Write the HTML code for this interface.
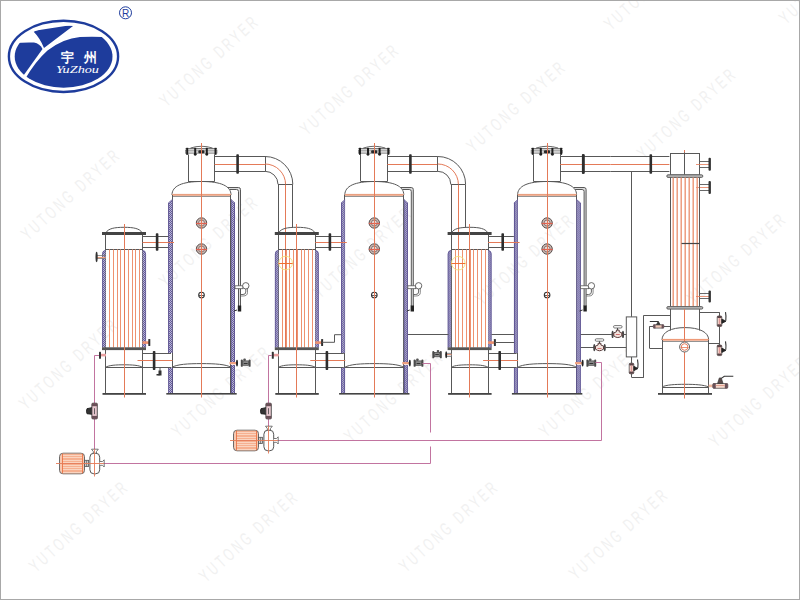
<!DOCTYPE html><html><head><meta charset="utf-8"><style>html,body{margin:0;padding:0;background:#fff}svg{display:block}</style></head><body><svg width="800" height="600" viewBox="0 0 800 600">
<defs><pattern id="ins" width="2" height="2" patternUnits="userSpaceOnUse">
<rect width="2" height="2" fill="#b8b3d6"/><rect width="1" height="1" fill="#645c98"/><rect x="1" y="1" width="1" height="1" fill="#645c98"/></pattern></defs>
<rect width="800" height="600" fill="#fff"/>
<text transform="translate(166.5,107.5) rotate(-42) scale(0.62,1)" font-family="Liberation Sans, sans-serif" font-size="18" fill="#f1f1f1" textLength="200" lengthAdjust="spacing">YUTONG DRYER</text>
<text transform="translate(307,136) rotate(-42) scale(0.62,1)" font-family="Liberation Sans, sans-serif" font-size="18" fill="#f1f1f1" textLength="200" lengthAdjust="spacing">YUTONG DRYER</text>
<text transform="translate(473.5,153) rotate(-42) scale(0.62,1)" font-family="Liberation Sans, sans-serif" font-size="18" fill="#f1f1f1" textLength="200" lengthAdjust="spacing">YUTONG DRYER</text>
<text transform="translate(644,160) rotate(-42) scale(0.62,1)" font-family="Liberation Sans, sans-serif" font-size="18" fill="#f1f1f1" textLength="200" lengthAdjust="spacing">YUTONG DRYER</text>
<text transform="translate(28,241) rotate(-42) scale(0.62,1)" font-family="Liberation Sans, sans-serif" font-size="18" fill="#f1f1f1" textLength="200" lengthAdjust="spacing">YUTONG DRYER</text>
<text transform="translate(166,288) rotate(-42) scale(0.62,1)" font-family="Liberation Sans, sans-serif" font-size="18" fill="#f1f1f1" textLength="200" lengthAdjust="spacing">YUTONG DRYER</text>
<text transform="translate(320,299) rotate(-42) scale(0.62,1)" font-family="Liberation Sans, sans-serif" font-size="18" fill="#f1f1f1" textLength="200" lengthAdjust="spacing">YUTONG DRYER</text>
<text transform="translate(482,306) rotate(-42) scale(0.62,1)" font-family="Liberation Sans, sans-serif" font-size="18" fill="#f1f1f1" textLength="200" lengthAdjust="spacing">YUTONG DRYER</text>
<text transform="translate(694,305) rotate(-42) scale(0.62,1)" font-family="Liberation Sans, sans-serif" font-size="18" fill="#f1f1f1" textLength="200" lengthAdjust="spacing">YUTONG DRYER</text>
<text transform="translate(26,410.5) rotate(-42) scale(0.62,1)" font-family="Liberation Sans, sans-serif" font-size="18" fill="#f1f1f1" textLength="200" lengthAdjust="spacing">YUTONG DRYER</text>
<text transform="translate(178.5,438) rotate(-42) scale(0.62,1)" font-family="Liberation Sans, sans-serif" font-size="18" fill="#f1f1f1" textLength="200" lengthAdjust="spacing">YUTONG DRYER</text>
<text transform="translate(351,443) rotate(-42) scale(0.62,1)" font-family="Liberation Sans, sans-serif" font-size="18" fill="#f1f1f1" textLength="200" lengthAdjust="spacing">YUTONG DRYER</text>
<text transform="translate(546,438) rotate(-42) scale(0.62,1)" font-family="Liberation Sans, sans-serif" font-size="18" fill="#f1f1f1" textLength="200" lengthAdjust="spacing">YUTONG DRYER</text>
<text transform="translate(716,448) rotate(-42) scale(0.62,1)" font-family="Liberation Sans, sans-serif" font-size="18" fill="#f1f1f1" textLength="200" lengthAdjust="spacing">YUTONG DRYER</text>
<text transform="translate(36,573) rotate(-42) scale(0.62,1)" font-family="Liberation Sans, sans-serif" font-size="18" fill="#f1f1f1" textLength="200" lengthAdjust="spacing">YUTONG DRYER</text>
<text transform="translate(206,583) rotate(-42) scale(0.62,1)" font-family="Liberation Sans, sans-serif" font-size="18" fill="#f1f1f1" textLength="200" lengthAdjust="spacing">YUTONG DRYER</text>
<text transform="translate(406,573) rotate(-42) scale(0.62,1)" font-family="Liberation Sans, sans-serif" font-size="18" fill="#f1f1f1" textLength="200" lengthAdjust="spacing">YUTONG DRYER</text>
<text transform="translate(576,580.5) rotate(-42) scale(0.62,1)" font-family="Liberation Sans, sans-serif" font-size="18" fill="#f1f1f1" textLength="200" lengthAdjust="spacing">YUTONG DRYER</text>
<text transform="translate(611,31) rotate(-42) scale(0.62,1)" font-family="Liberation Sans, sans-serif" font-size="18" fill="#f1f1f1" textLength="200" lengthAdjust="spacing">YUTONG DRYER</text>
<text transform="translate(786,25) rotate(-42) scale(0.62,1)" font-family="Liberation Sans, sans-serif" font-size="18" fill="#f1f1f1" textLength="200" lengthAdjust="spacing">YUTONG DRYER</text>
<g transform="translate(0.0,0)">
<path d="M190.5,148 Q201.5,144.5 212.5,148" stroke="#585858" stroke-width="0.9" fill="none"/>
<line x1="185.5" y1="148.5" x2="217" y2="148.5" stroke="#555" stroke-width="0.8"/>
<rect x="185.5" y="150" width="31.5" height="3.2" fill="#cfcfcf" stroke="#666" stroke-width="0.6"/>
<rect x="186.2" y="147.8" width="2" height="7" fill="#1e1e1e"/>
<rect x="194.2" y="147.8" width="2" height="7" fill="#1e1e1e"/>
<rect x="205.8" y="147.8" width="2" height="7" fill="#1e1e1e"/>
<rect x="214.5" y="147.8" width="2" height="7" fill="#1e1e1e"/>
<circle cx="195.2" cy="154.3" r="1.2" stroke="#1e1e1e" stroke-width="0.4" fill="#1e1e1e"/>
<circle cx="206.8" cy="154.3" r="1.2" stroke="#1e1e1e" stroke-width="0.4" fill="#1e1e1e"/>
<rect x="198.3" y="150.3" width="6.2" height="3" fill="#2a2a2a" rx="1.2"/>
<line x1="188.5" y1="154.5" x2="188.5" y2="181.5" stroke="#585858" stroke-width="1"/>
<line x1="214.5" y1="154.5" x2="214.5" y2="181.5" stroke="#585858" stroke-width="1"/>
<line x1="188" y1="181.5" x2="214.6" y2="181.5" stroke="#585858" stroke-width="1"/>
<path d="M172,195 C172,186 182,181.5 201.5,181.5 C221,181.5 231,186 231,195" stroke="#585858" stroke-width="1" fill="none"/>
<rect x="172" y="193.9" width="59" height="1.9" fill="#e9a080"/>
<line x1="172" y1="196.5" x2="231" y2="196.5" stroke="#777" stroke-width="0.8"/>
<line x1="172.5" y1="195" x2="172.5" y2="393" stroke="#585858" stroke-width="1"/>
<line x1="230.5" y1="195" x2="230.5" y2="393" stroke="#585858" stroke-width="1"/>
<path d="M168.3,203.0 L172.3,199.5 L172.3,353.0 L168.3,353.0 Z" stroke="none" stroke-width="0" fill="url(#ins)"/>
<line x1="168.5" y1="203.0" x2="168.5" y2="353.0" stroke="#554a8c" stroke-width="0.8"/>
<path d="M168.3,203.0 L172.3,199.5" stroke="#554a8c" stroke-width="0.7" fill="none"/>
<line x1="172.5" y1="199.5" x2="172.5" y2="353.0" stroke="#6a6098" stroke-width="0.6"/>
<rect x="168.3" y="367.5" width="4" height="25.5" fill="url(#ins)"/>
<line x1="168.5" y1="367.5" x2="168.5" y2="393.0" stroke="#554a8c" stroke-width="0.7"/>
<line x1="172.5" y1="367.5" x2="172.5" y2="393.0" stroke="#554a8c" stroke-width="0.7"/>
<path d="M231,199.5 L235,203.0 L235,362.0 L231,362.0 Z" stroke="none" stroke-width="0" fill="url(#ins)"/>
<line x1="234.5" y1="203.0" x2="234.5" y2="362.0" stroke="#554a8c" stroke-width="0.8"/>
<path d="M231,199.5 L235,203.0" stroke="#554a8c" stroke-width="0.7" fill="none"/>
<line x1="231.5" y1="199.5" x2="231.5" y2="362.0" stroke="#6a6098" stroke-width="0.6"/>
<rect x="231" y="365" width="4" height="28" fill="url(#ins)"/>
<line x1="231.5" y1="365" x2="231.5" y2="393" stroke="#554a8c" stroke-width="0.7"/>
<line x1="234.5" y1="365" x2="234.5" y2="393" stroke="#554a8c" stroke-width="0.7"/>
<rect x="229.5" y="362" width="7" height="2.3" fill="#f0a080"/>
<ellipse cx="237" cy="363.1" rx="1" ry="3.4" fill="#222"/>
<g>
<rect x="240.8" y="359.5" width="2" height="7.3" fill="#4a4a4a" rx="0.9"/>
<rect x="248.6" y="359.5" width="2" height="7.3" fill="#4a4a4a" rx="0.9"/>
<rect x="242.8" y="360.90000000000003" width="5.799999999999983" height="4.4" fill="#8a8a8a" stroke="#444" stroke-width="0.7"/>
<rect x="243.4" y="358.5" width="2.4" height="2.6" fill="#555" rx="0.8"/>
<line x1="243.8" y1="363.5" x2="247.6" y2="363.5" stroke="#333" stroke-width="1"/>
</g>
<rect x="166.3" y="393" width="70.4" height="1.6" fill="#444"/>
<path d="M172,367.3 C177,364.3 188,363.6 201.5,363.6 C215,363.6 226,364.3 231,367.3" stroke="#585858" stroke-width="1" fill="none"/>
<line x1="172" y1="367.5" x2="231" y2="367.5" stroke="#585858" stroke-width="1"/>
<circle cx="201.5" cy="223" r="5.2" stroke="#5a5050" stroke-width="1" fill="#c8b8b0"/>
<circle cx="201.5" cy="223" r="3" stroke="#7a6060" stroke-width="0.8" fill="#e8dcd8"/>
<line x1="196.0" y1="223.5" x2="207.0" y2="223.5" stroke="#e06050" stroke-width="1.2"/>
<circle cx="201.5" cy="249" r="5.2" stroke="#5a5050" stroke-width="1" fill="#c8b8b0"/>
<circle cx="201.5" cy="249" r="3" stroke="#7a6060" stroke-width="0.8" fill="#e8dcd8"/>
<line x1="196.0" y1="249.5" x2="207.0" y2="249.5" stroke="#e06050" stroke-width="1.2"/>
<circle cx="201.5" cy="295" r="2.8" stroke="#333" stroke-width="1.1" fill="none"/>
<line x1="199.0" y1="295.5" x2="204.0" y2="295.5" stroke="#333" stroke-width="0.8"/>
<line x1="201.5" y1="143" x2="201.5" y2="397.5" stroke="#e47a58" stroke-width="1"/>
<path d="M228.5,187.5 L238.5,187.5 Q240.5,187.5 240.5,189.5 L240.5,306 L238.5,306 L238.5,191.5 Q238.5,189.5 236.5,189.5 L229.5,189.5 Z" stroke="none" stroke-width="0" fill="#dcdcdc"/>
<path d="M228,187.5 L238.5,187.5 Q240.5,187.5 240.5,189.5 L240.5,306" stroke="#585858" stroke-width="1" fill="none"/>
<path d="M229.5,189.5 L236.5,189.5 Q238.5,189.5 238.5,191.5 L238.5,306" stroke="#585858" stroke-width="1" fill="none"/>
<rect x="237.8" y="305.5" width="3.4" height="6" fill="#222"/>
<path d="M237,310 L234,311" stroke="#333" stroke-width="1" fill="none"/>
<rect x="235" y="285.8" width="8" height="2.9" fill="#fff" stroke="#585858" stroke-width="0.8"/>
<circle cx="245.8" cy="285.8" r="3.2" stroke="#585858" stroke-width="0.9" fill="#fff"/>
<path d="M245.8,289 L245.8,292 Q245.8,294.5 243,294.5 L240.6,294.5" stroke="#585858" stroke-width="0.9" fill="none"/>
<path d="M247.5,288.5 L247.5,292.5 Q247.5,296 243,296 L240.6,296" stroke="#585858" stroke-width="0.7" fill="none"/>
<line x1="214.6" y1="156.5" x2="265" y2="156.5" stroke="#585858" stroke-width="1"/>
<line x1="214.6" y1="171.5" x2="265" y2="171.5" stroke="#585858" stroke-width="1"/>
<line x1="214.6" y1="164.5" x2="265" y2="164.5" stroke="#e47a58" stroke-width="1"/>
<rect x="236.3" y="154.3" width="2.6" height="19.5" fill="#2e2e2e" rx="0.8"/>
<line x1="265.5" y1="156.5" x2="265.5" y2="171.3" stroke="#585858" stroke-width="1"/>
<path d="M265,156.5 A27.8,27.8 0 0 1 292.8,184.3" stroke="#585858" stroke-width="1" fill="none"/>
<path d="M265,171.3 A13,13 0 0 1 278,184.3" stroke="#585858" stroke-width="1" fill="none"/>
<path d="M265,164 A20.6,20.6 0 0 1 285.6,184.6" stroke="#e47a58" stroke-width="1" fill="none"/>
<line x1="278" y1="184.5" x2="292.8" y2="184.5" stroke="#585858" stroke-width="1"/>
<line x1="278.5" y1="184.6" x2="278.5" y2="249.4" stroke="#585858" stroke-width="1"/>
<line x1="292.5" y1="184.6" x2="292.5" y2="227.5" stroke="#585858" stroke-width="1"/>
<line x1="285.5" y1="184.6" x2="285.5" y2="348" stroke="#e47a58" stroke-width="1"/>
<path d="M106,232.5 C108.5,228.6 114,227.3 124,227.3 C134,227.3 139.5,228.6 142,232.5" stroke="#585858" stroke-width="1" fill="none"/>
<rect x="102" y="232" width="44" height="3" fill="#444"/>
<line x1="105.5" y1="235" x2="105.5" y2="393.5" stroke="#585858" stroke-width="1"/>
<line x1="142.5" y1="235" x2="142.5" y2="393.5" stroke="#585858" stroke-width="1"/>
<line x1="105.6" y1="249.5" x2="142.5" y2="249.5" stroke="#585858" stroke-width="1"/>
<line x1="109.5" y1="249.4" x2="109.5" y2="347.5" stroke="#ee9270" stroke-width="1"/>
<line x1="113.5" y1="249.4" x2="113.5" y2="347.5" stroke="#ee9270" stroke-width="1"/>
<line x1="117.5" y1="249.4" x2="117.5" y2="347.5" stroke="#ee9270" stroke-width="1"/>
<line x1="120.5" y1="249.4" x2="120.5" y2="347.5" stroke="#ee9270" stroke-width="1"/>
<line x1="124.5" y1="249.4" x2="124.5" y2="347.5" stroke="#ee9270" stroke-width="1"/>
<line x1="128.5" y1="249.4" x2="128.5" y2="347.5" stroke="#ee9270" stroke-width="1"/>
<line x1="132.5" y1="249.4" x2="132.5" y2="347.5" stroke="#ee9270" stroke-width="1"/>
<line x1="135.5" y1="249.4" x2="135.5" y2="347.5" stroke="#ee9270" stroke-width="1"/>
<line x1="139.5" y1="249.4" x2="139.5" y2="347.5" stroke="#ee9270" stroke-width="1"/>
<path d="M102.2,347.5 L102.2,254 Q102.2,250.5 105.6,250.2 L105.6,347.5 Z" stroke="none" stroke-width="0" fill="url(#ins)"/>
<path d="M102.5,347.5 L102.5,254 Q102.5,250.8 105.6,250.4" stroke="#554a8c" stroke-width="0.7" fill="none"/>
<path d="M145.9,347.5 L145.9,254 Q145.9,250.5 142.5,250.2 L142.5,347.5 Z" stroke="none" stroke-width="0" fill="url(#ins)"/>
<path d="M145.6,347.5 L145.6,254 Q145.6,250.8 142.5,250.4" stroke="#554a8c" stroke-width="0.7" fill="none"/>
<rect x="102" y="347.3" width="44" height="2.8" fill="#555"/>
<rect x="142.5" y="341.3" width="6.5" height="2.6" fill="#ee9270"/>
<rect x="148.3" y="339" width="2" height="7" fill="#333" rx="0.6"/>
<path d="M105.6,367.3 C109,365.2 116,364.8 124,364.8 C132,364.8 139,365.2 142.5,367.3" stroke="#585858" stroke-width="1" fill="none"/>
<line x1="105.6" y1="367.5" x2="142.5" y2="367.5" stroke="#585858" stroke-width="1"/>
<rect x="102.5" y="393" width="43.5" height="1.8" fill="#444"/>
<rect x="100" y="353.8" width="6" height="2.6" fill="#e9a0a0"/>
<rect x="99" y="351.8" width="2" height="7" fill="#333" rx="0.6"/>
<line x1="124.5" y1="224" x2="124.5" y2="397.5" stroke="#e47a58" stroke-width="1"/>
<line x1="142.5" y1="236.5" x2="168.3" y2="236.5" stroke="#585858" stroke-width="1"/>
<line x1="142.5" y1="247.5" x2="168.3" y2="247.5" stroke="#585858" stroke-width="1"/>
<line x1="142.5" y1="242.5" x2="174" y2="242.5" stroke="#e47a58" stroke-width="1"/>
<rect x="155.8" y="233.2" width="2.6" height="17.5" fill="#2e2e2e" rx="0.8"/>
<line x1="142.5" y1="353.5" x2="171" y2="353.5" stroke="#585858" stroke-width="1"/>
<line x1="142.5" y1="367.5" x2="171" y2="367.5" stroke="#585858" stroke-width="1"/>
<line x1="137.5" y1="360.5" x2="172.5" y2="360.5" stroke="#e47a58" stroke-width="1"/>
<rect x="152.8" y="351" width="2.6" height="19" fill="#2e2e2e" rx="0.8"/>
</g>
<g transform="translate(172.8,0)">
<path d="M190.5,148 Q201.5,144.5 212.5,148" stroke="#585858" stroke-width="0.9" fill="none"/>
<line x1="185.5" y1="148.5" x2="217" y2="148.5" stroke="#555" stroke-width="0.8"/>
<rect x="185.5" y="150" width="31.5" height="3.2" fill="#cfcfcf" stroke="#666" stroke-width="0.6"/>
<rect x="186.2" y="147.8" width="2" height="7" fill="#1e1e1e"/>
<rect x="194.2" y="147.8" width="2" height="7" fill="#1e1e1e"/>
<rect x="205.8" y="147.8" width="2" height="7" fill="#1e1e1e"/>
<rect x="214.5" y="147.8" width="2" height="7" fill="#1e1e1e"/>
<circle cx="195.2" cy="154.3" r="1.2" stroke="#1e1e1e" stroke-width="0.4" fill="#1e1e1e"/>
<circle cx="206.8" cy="154.3" r="1.2" stroke="#1e1e1e" stroke-width="0.4" fill="#1e1e1e"/>
<rect x="198.3" y="150.3" width="6.2" height="3" fill="#2a2a2a" rx="1.2"/>
<line x1="187.7" y1="154.5" x2="187.7" y2="181.5" stroke="#585858" stroke-width="1"/>
<line x1="214.7" y1="154.5" x2="214.7" y2="181.5" stroke="#585858" stroke-width="1"/>
<line x1="188" y1="181.5" x2="214.6" y2="181.5" stroke="#585858" stroke-width="1"/>
<path d="M172,195 C172,186 182,181.5 201.5,181.5 C221,181.5 231,186 231,195" stroke="#585858" stroke-width="1" fill="none"/>
<rect x="172" y="193.9" width="59" height="1.9" fill="#e9a080"/>
<line x1="172" y1="196.5" x2="231" y2="196.5" stroke="#777" stroke-width="0.8"/>
<line x1="171.7" y1="195" x2="171.7" y2="393" stroke="#585858" stroke-width="1"/>
<line x1="230.7" y1="195" x2="230.7" y2="393" stroke="#585858" stroke-width="1"/>
<path d="M168.3,203.0 L172.3,199.5 L172.3,353.0 L168.3,353.0 Z" stroke="none" stroke-width="0" fill="url(#ins)"/>
<line x1="168.7" y1="203.0" x2="168.7" y2="353.0" stroke="#554a8c" stroke-width="0.8"/>
<path d="M168.3,203.0 L172.3,199.5" stroke="#554a8c" stroke-width="0.7" fill="none"/>
<line x1="171.7" y1="199.5" x2="171.7" y2="353.0" stroke="#6a6098" stroke-width="0.6"/>
<rect x="168.3" y="367.5" width="4" height="25.5" fill="url(#ins)"/>
<line x1="168.7" y1="367.5" x2="168.7" y2="393.0" stroke="#554a8c" stroke-width="0.7"/>
<line x1="171.7" y1="367.5" x2="171.7" y2="393.0" stroke="#554a8c" stroke-width="0.7"/>
<path d="M231,199.5 L235,203.0 L235,362.0 L231,362.0 Z" stroke="none" stroke-width="0" fill="url(#ins)"/>
<line x1="234.7" y1="203.0" x2="234.7" y2="362.0" stroke="#554a8c" stroke-width="0.8"/>
<path d="M231,199.5 L235,203.0" stroke="#554a8c" stroke-width="0.7" fill="none"/>
<line x1="231.7" y1="199.5" x2="231.7" y2="362.0" stroke="#6a6098" stroke-width="0.6"/>
<rect x="231" y="365" width="4" height="28" fill="url(#ins)"/>
<line x1="231.7" y1="365" x2="231.7" y2="393" stroke="#554a8c" stroke-width="0.7"/>
<line x1="234.7" y1="365" x2="234.7" y2="393" stroke="#554a8c" stroke-width="0.7"/>
<rect x="229.5" y="362" width="7" height="2.3" fill="#f0a080"/>
<ellipse cx="237" cy="363.1" rx="1" ry="3.4" fill="#222"/>
<g>
<rect x="240.8" y="359.5" width="2" height="7.3" fill="#4a4a4a" rx="0.9"/>
<rect x="248.6" y="359.5" width="2" height="7.3" fill="#4a4a4a" rx="0.9"/>
<rect x="242.8" y="360.90000000000003" width="5.799999999999983" height="4.4" fill="#8a8a8a" stroke="#444" stroke-width="0.7"/>
<rect x="243.4" y="358.5" width="2.4" height="2.6" fill="#555" rx="0.8"/>
<line x1="243.8" y1="363.5" x2="247.6" y2="363.5" stroke="#333" stroke-width="1"/>
</g>
<rect x="166.3" y="393" width="70.4" height="1.6" fill="#444"/>
<path d="M172,367.3 C177,364.3 188,363.6 201.5,363.6 C215,363.6 226,364.3 231,367.3" stroke="#585858" stroke-width="1" fill="none"/>
<line x1="172" y1="367.5" x2="231" y2="367.5" stroke="#585858" stroke-width="1"/>
<circle cx="201.5" cy="223" r="5.2" stroke="#5a5050" stroke-width="1" fill="#c8b8b0"/>
<circle cx="201.5" cy="223" r="3" stroke="#7a6060" stroke-width="0.8" fill="#e8dcd8"/>
<line x1="196.0" y1="223.5" x2="207.0" y2="223.5" stroke="#e06050" stroke-width="1.2"/>
<circle cx="201.5" cy="249" r="5.2" stroke="#5a5050" stroke-width="1" fill="#c8b8b0"/>
<circle cx="201.5" cy="249" r="3" stroke="#7a6060" stroke-width="0.8" fill="#e8dcd8"/>
<line x1="196.0" y1="249.5" x2="207.0" y2="249.5" stroke="#e06050" stroke-width="1.2"/>
<circle cx="201.5" cy="295" r="2.8" stroke="#333" stroke-width="1.1" fill="none"/>
<line x1="199.0" y1="295.5" x2="204.0" y2="295.5" stroke="#333" stroke-width="0.8"/>
<line x1="201.7" y1="143" x2="201.7" y2="397.5" stroke="#e47a58" stroke-width="1"/>
<path d="M228.5,187.5 L238.5,187.5 Q240.5,187.5 240.5,189.5 L240.5,306 L238.5,306 L238.5,191.5 Q238.5,189.5 236.5,189.5 L229.5,189.5 Z" stroke="none" stroke-width="0" fill="#dcdcdc"/>
<path d="M228,187.5 L238.5,187.5 Q240.5,187.5 240.5,189.5 L240.5,306" stroke="#585858" stroke-width="1" fill="none"/>
<path d="M229.5,189.5 L236.5,189.5 Q238.5,189.5 238.5,191.5 L238.5,306" stroke="#585858" stroke-width="1" fill="none"/>
<rect x="237.8" y="305.5" width="3.4" height="6" fill="#222"/>
<path d="M237,310 L234,311" stroke="#333" stroke-width="1" fill="none"/>
<rect x="235" y="285.8" width="8" height="2.9" fill="#fff" stroke="#585858" stroke-width="0.8"/>
<circle cx="245.8" cy="285.8" r="3.2" stroke="#585858" stroke-width="0.9" fill="#fff"/>
<path d="M245.8,289 L245.8,292 Q245.8,294.5 243,294.5 L240.6,294.5" stroke="#585858" stroke-width="0.9" fill="none"/>
<path d="M247.5,288.5 L247.5,292.5 Q247.5,296 243,296 L240.6,296" stroke="#585858" stroke-width="0.7" fill="none"/>
<line x1="214.6" y1="156.5" x2="265" y2="156.5" stroke="#585858" stroke-width="1"/>
<line x1="214.6" y1="171.5" x2="265" y2="171.5" stroke="#585858" stroke-width="1"/>
<line x1="214.6" y1="164.5" x2="265" y2="164.5" stroke="#e47a58" stroke-width="1"/>
<rect x="236.3" y="154.3" width="2.6" height="19.5" fill="#2e2e2e" rx="0.8"/>
<line x1="264.7" y1="156.5" x2="264.7" y2="171.3" stroke="#585858" stroke-width="1"/>
<path d="M265,156.5 A27.8,27.8 0 0 1 292.8,184.3" stroke="#585858" stroke-width="1" fill="none"/>
<path d="M265,171.3 A13,13 0 0 1 278,184.3" stroke="#585858" stroke-width="1" fill="none"/>
<path d="M265,164 A20.6,20.6 0 0 1 285.6,184.6" stroke="#e47a58" stroke-width="1" fill="none"/>
<line x1="278" y1="184.5" x2="292.8" y2="184.5" stroke="#585858" stroke-width="1"/>
<line x1="278.7" y1="184.6" x2="278.7" y2="249.4" stroke="#585858" stroke-width="1"/>
<line x1="292.7" y1="184.6" x2="292.7" y2="227.5" stroke="#585858" stroke-width="1"/>
<line x1="285.7" y1="184.6" x2="285.7" y2="348" stroke="#e47a58" stroke-width="1"/>
<path d="M106,232.5 C108.5,228.6 114,227.3 124,227.3 C134,227.3 139.5,228.6 142,232.5" stroke="#585858" stroke-width="1" fill="none"/>
<rect x="102" y="232" width="44" height="3" fill="#444"/>
<line x1="105.69999999999999" y1="235" x2="105.69999999999999" y2="393.5" stroke="#585858" stroke-width="1"/>
<line x1="142.7" y1="235" x2="142.7" y2="393.5" stroke="#585858" stroke-width="1"/>
<line x1="105.6" y1="249.5" x2="142.5" y2="249.5" stroke="#585858" stroke-width="1"/>
<line x1="109.69999999999999" y1="249.4" x2="109.69999999999999" y2="347.5" stroke="#ee9270" stroke-width="1"/>
<line x1="113.69999999999999" y1="249.4" x2="113.69999999999999" y2="347.5" stroke="#ee9270" stroke-width="1"/>
<line x1="116.69999999999999" y1="249.4" x2="116.69999999999999" y2="347.5" stroke="#ee9270" stroke-width="1"/>
<line x1="120.69999999999999" y1="249.4" x2="120.69999999999999" y2="347.5" stroke="#ee9270" stroke-width="1"/>
<line x1="124.69999999999999" y1="249.4" x2="124.69999999999999" y2="347.5" stroke="#ee9270" stroke-width="1"/>
<line x1="128.7" y1="249.4" x2="128.7" y2="347.5" stroke="#ee9270" stroke-width="1"/>
<line x1="131.7" y1="249.4" x2="131.7" y2="347.5" stroke="#ee9270" stroke-width="1"/>
<line x1="135.7" y1="249.4" x2="135.7" y2="347.5" stroke="#ee9270" stroke-width="1"/>
<line x1="139.7" y1="249.4" x2="139.7" y2="347.5" stroke="#ee9270" stroke-width="1"/>
<path d="M102.2,347.5 L102.2,254 Q102.2,250.5 105.6,250.2 L105.6,347.5 Z" stroke="none" stroke-width="0" fill="url(#ins)"/>
<path d="M102.5,347.5 L102.5,254 Q102.5,250.8 105.6,250.4" stroke="#554a8c" stroke-width="0.7" fill="none"/>
<path d="M145.9,347.5 L145.9,254 Q145.9,250.5 142.5,250.2 L142.5,347.5 Z" stroke="none" stroke-width="0" fill="url(#ins)"/>
<path d="M145.6,347.5 L145.6,254 Q145.6,250.8 142.5,250.4" stroke="#554a8c" stroke-width="0.7" fill="none"/>
<rect x="102" y="347.3" width="44" height="2.8" fill="#555"/>
<rect x="142.5" y="341.3" width="6.5" height="2.6" fill="#ee9270"/>
<rect x="148.3" y="339" width="2" height="7" fill="#333" rx="0.6"/>
<path d="M105.6,367.3 C109,365.2 116,364.8 124,364.8 C132,364.8 139,365.2 142.5,367.3" stroke="#585858" stroke-width="1" fill="none"/>
<line x1="105.6" y1="367.5" x2="142.5" y2="367.5" stroke="#585858" stroke-width="1"/>
<rect x="102.5" y="393" width="43.5" height="1.8" fill="#444"/>
<rect x="100" y="353.8" width="6" height="2.6" fill="#e9a0a0"/>
<rect x="99" y="351.8" width="2" height="7" fill="#333" rx="0.6"/>
<line x1="123.69999999999999" y1="224" x2="123.69999999999999" y2="397.5" stroke="#e47a58" stroke-width="1"/>
<line x1="142.5" y1="236.5" x2="168.3" y2="236.5" stroke="#585858" stroke-width="1"/>
<line x1="142.5" y1="247.5" x2="168.3" y2="247.5" stroke="#585858" stroke-width="1"/>
<line x1="142.5" y1="242.5" x2="174" y2="242.5" stroke="#e47a58" stroke-width="1"/>
<rect x="155.8" y="233.2" width="2.6" height="17.5" fill="#2e2e2e" rx="0.8"/>
<line x1="142.5" y1="353.5" x2="171" y2="353.5" stroke="#585858" stroke-width="1"/>
<line x1="142.5" y1="367.5" x2="171" y2="367.5" stroke="#585858" stroke-width="1"/>
<line x1="137.5" y1="360.5" x2="172.5" y2="360.5" stroke="#e47a58" stroke-width="1"/>
<rect x="152.8" y="351" width="2.6" height="19" fill="#2e2e2e" rx="0.8"/>
</g>
<g transform="translate(345.6,0)">
<path d="M190.5,148 Q201.5,144.5 212.5,148" stroke="#585858" stroke-width="0.9" fill="none"/>
<line x1="185.5" y1="148.5" x2="217" y2="148.5" stroke="#555" stroke-width="0.8"/>
<rect x="185.5" y="150" width="31.5" height="3.2" fill="#cfcfcf" stroke="#666" stroke-width="0.6"/>
<rect x="186.2" y="147.8" width="2" height="7" fill="#1e1e1e"/>
<rect x="194.2" y="147.8" width="2" height="7" fill="#1e1e1e"/>
<rect x="205.8" y="147.8" width="2" height="7" fill="#1e1e1e"/>
<rect x="214.5" y="147.8" width="2" height="7" fill="#1e1e1e"/>
<circle cx="195.2" cy="154.3" r="1.2" stroke="#1e1e1e" stroke-width="0.4" fill="#1e1e1e"/>
<circle cx="206.8" cy="154.3" r="1.2" stroke="#1e1e1e" stroke-width="0.4" fill="#1e1e1e"/>
<rect x="198.3" y="150.3" width="6.2" height="3" fill="#2a2a2a" rx="1.2"/>
<line x1="187.89999999999998" y1="154.5" x2="187.89999999999998" y2="181.5" stroke="#585858" stroke-width="1"/>
<line x1="214.89999999999998" y1="154.5" x2="214.89999999999998" y2="181.5" stroke="#585858" stroke-width="1"/>
<line x1="188" y1="181.5" x2="214.6" y2="181.5" stroke="#585858" stroke-width="1"/>
<path d="M172,195 C172,186 182,181.5 201.5,181.5 C221,181.5 231,186 231,195" stroke="#585858" stroke-width="1" fill="none"/>
<rect x="172" y="193.9" width="59" height="1.9" fill="#e9a080"/>
<line x1="172" y1="196.5" x2="231" y2="196.5" stroke="#777" stroke-width="0.8"/>
<line x1="171.89999999999998" y1="195" x2="171.89999999999998" y2="393" stroke="#585858" stroke-width="1"/>
<line x1="230.89999999999998" y1="195" x2="230.89999999999998" y2="393" stroke="#585858" stroke-width="1"/>
<path d="M168.3,203.0 L172.3,199.5 L172.3,353.0 L168.3,353.0 Z" stroke="none" stroke-width="0" fill="url(#ins)"/>
<line x1="168.89999999999998" y1="203.0" x2="168.89999999999998" y2="353.0" stroke="#554a8c" stroke-width="0.8"/>
<path d="M168.3,203.0 L172.3,199.5" stroke="#554a8c" stroke-width="0.7" fill="none"/>
<line x1="171.89999999999998" y1="199.5" x2="171.89999999999998" y2="353.0" stroke="#6a6098" stroke-width="0.6"/>
<rect x="168.3" y="367.5" width="4" height="25.5" fill="url(#ins)"/>
<line x1="168.89999999999998" y1="367.5" x2="168.89999999999998" y2="393.0" stroke="#554a8c" stroke-width="0.7"/>
<line x1="171.89999999999998" y1="367.5" x2="171.89999999999998" y2="393.0" stroke="#554a8c" stroke-width="0.7"/>
<path d="M231,199.5 L235,203.0 L235,362.0 L231,362.0 Z" stroke="none" stroke-width="0" fill="url(#ins)"/>
<line x1="234.89999999999998" y1="203.0" x2="234.89999999999998" y2="362.0" stroke="#554a8c" stroke-width="0.8"/>
<path d="M231,199.5 L235,203.0" stroke="#554a8c" stroke-width="0.7" fill="none"/>
<line x1="230.89999999999998" y1="199.5" x2="230.89999999999998" y2="362.0" stroke="#6a6098" stroke-width="0.6"/>
<rect x="231" y="365" width="4" height="28" fill="url(#ins)"/>
<line x1="230.89999999999998" y1="365" x2="230.89999999999998" y2="393" stroke="#554a8c" stroke-width="0.7"/>
<line x1="234.89999999999998" y1="365" x2="234.89999999999998" y2="393" stroke="#554a8c" stroke-width="0.7"/>
<rect x="229.5" y="362" width="7" height="2.3" fill="#f0a080"/>
<ellipse cx="237" cy="363.1" rx="1" ry="3.4" fill="#222"/>
<g>
<rect x="240.8" y="359.5" width="2" height="7.3" fill="#4a4a4a" rx="0.9"/>
<rect x="248.6" y="359.5" width="2" height="7.3" fill="#4a4a4a" rx="0.9"/>
<rect x="242.8" y="360.90000000000003" width="5.799999999999983" height="4.4" fill="#8a8a8a" stroke="#444" stroke-width="0.7"/>
<rect x="243.4" y="358.5" width="2.4" height="2.6" fill="#555" rx="0.8"/>
<line x1="243.8" y1="363.5" x2="247.6" y2="363.5" stroke="#333" stroke-width="1"/>
</g>
<rect x="166.3" y="393" width="70.4" height="1.6" fill="#444"/>
<path d="M172,367.3 C177,364.3 188,363.6 201.5,363.6 C215,363.6 226,364.3 231,367.3" stroke="#585858" stroke-width="1" fill="none"/>
<line x1="172" y1="367.5" x2="231" y2="367.5" stroke="#585858" stroke-width="1"/>
<circle cx="201.5" cy="223" r="5.2" stroke="#5a5050" stroke-width="1" fill="#c8b8b0"/>
<circle cx="201.5" cy="223" r="3" stroke="#7a6060" stroke-width="0.8" fill="#e8dcd8"/>
<line x1="196.0" y1="223.5" x2="207.0" y2="223.5" stroke="#e06050" stroke-width="1.2"/>
<circle cx="201.5" cy="249" r="5.2" stroke="#5a5050" stroke-width="1" fill="#c8b8b0"/>
<circle cx="201.5" cy="249" r="3" stroke="#7a6060" stroke-width="0.8" fill="#e8dcd8"/>
<line x1="196.0" y1="249.5" x2="207.0" y2="249.5" stroke="#e06050" stroke-width="1.2"/>
<circle cx="201.5" cy="295" r="2.8" stroke="#333" stroke-width="1.1" fill="none"/>
<line x1="199.0" y1="295.5" x2="204.0" y2="295.5" stroke="#333" stroke-width="0.8"/>
<line x1="201.89999999999998" y1="143" x2="201.89999999999998" y2="397.5" stroke="#e47a58" stroke-width="1"/>
<path d="M228.5,187.5 L238.5,187.5 Q240.5,187.5 240.5,189.5 L240.5,306 L238.5,306 L238.5,191.5 Q238.5,189.5 236.5,189.5 L229.5,189.5 Z" stroke="none" stroke-width="0" fill="#dcdcdc"/>
<path d="M228,187.5 L238.5,187.5 Q240.5,187.5 240.5,189.5 L240.5,306" stroke="#585858" stroke-width="1" fill="none"/>
<path d="M229.5,189.5 L236.5,189.5 Q238.5,189.5 238.5,191.5 L238.5,306" stroke="#585858" stroke-width="1" fill="none"/>
<rect x="237.8" y="305.5" width="3.4" height="6" fill="#222"/>
<path d="M237,310 L234,311" stroke="#333" stroke-width="1" fill="none"/>
<rect x="235" y="285.8" width="8" height="2.9" fill="#fff" stroke="#585858" stroke-width="0.8"/>
<circle cx="245.8" cy="285.8" r="3.2" stroke="#585858" stroke-width="0.9" fill="#fff"/>
<path d="M245.8,289 L245.8,292 Q245.8,294.5 243,294.5 L240.6,294.5" stroke="#585858" stroke-width="0.9" fill="none"/>
<path d="M247.5,288.5 L247.5,292.5 Q247.5,296 243,296 L240.6,296" stroke="#585858" stroke-width="0.7" fill="none"/>
<line x1="214.6" y1="156.5" x2="265" y2="156.5" stroke="#585858" stroke-width="1"/>
<line x1="214.6" y1="171.5" x2="265" y2="171.5" stroke="#585858" stroke-width="1"/>
<line x1="214.6" y1="164.5" x2="265" y2="164.5" stroke="#e47a58" stroke-width="1"/>
<rect x="236.3" y="154.3" width="2.6" height="19.5" fill="#2e2e2e" rx="0.8"/>
<path d="M106,232.5 C108.5,228.6 114,227.3 124,227.3 C134,227.3 139.5,228.6 142,232.5" stroke="#585858" stroke-width="1" fill="none"/>
<rect x="102" y="232" width="44" height="3" fill="#444"/>
<line x1="105.89999999999998" y1="235" x2="105.89999999999998" y2="393.5" stroke="#585858" stroke-width="1"/>
<line x1="142.89999999999998" y1="235" x2="142.89999999999998" y2="393.5" stroke="#585858" stroke-width="1"/>
<line x1="105.6" y1="249.5" x2="142.5" y2="249.5" stroke="#585858" stroke-width="1"/>
<line x1="109.89999999999998" y1="249.4" x2="109.89999999999998" y2="347.5" stroke="#ee9270" stroke-width="1"/>
<line x1="112.89999999999998" y1="249.4" x2="112.89999999999998" y2="347.5" stroke="#ee9270" stroke-width="1"/>
<line x1="116.89999999999998" y1="249.4" x2="116.89999999999998" y2="347.5" stroke="#ee9270" stroke-width="1"/>
<line x1="120.89999999999998" y1="249.4" x2="120.89999999999998" y2="347.5" stroke="#ee9270" stroke-width="1"/>
<line x1="124.89999999999998" y1="249.4" x2="124.89999999999998" y2="347.5" stroke="#ee9270" stroke-width="1"/>
<line x1="127.89999999999998" y1="249.4" x2="127.89999999999998" y2="347.5" stroke="#ee9270" stroke-width="1"/>
<line x1="131.89999999999998" y1="249.4" x2="131.89999999999998" y2="347.5" stroke="#ee9270" stroke-width="1"/>
<line x1="135.89999999999998" y1="249.4" x2="135.89999999999998" y2="347.5" stroke="#ee9270" stroke-width="1"/>
<line x1="139.89999999999998" y1="249.4" x2="139.89999999999998" y2="347.5" stroke="#ee9270" stroke-width="1"/>
<path d="M102.2,347.5 L102.2,254 Q102.2,250.5 105.6,250.2 L105.6,347.5 Z" stroke="none" stroke-width="0" fill="url(#ins)"/>
<path d="M102.5,347.5 L102.5,254 Q102.5,250.8 105.6,250.4" stroke="#554a8c" stroke-width="0.7" fill="none"/>
<path d="M145.9,347.5 L145.9,254 Q145.9,250.5 142.5,250.2 L142.5,347.5 Z" stroke="none" stroke-width="0" fill="url(#ins)"/>
<path d="M145.6,347.5 L145.6,254 Q145.6,250.8 142.5,250.4" stroke="#554a8c" stroke-width="0.7" fill="none"/>
<rect x="102" y="347.3" width="44" height="2.8" fill="#555"/>
<rect x="142.5" y="341.3" width="6.5" height="2.6" fill="#ee9270"/>
<rect x="148.3" y="339" width="2" height="7" fill="#333" rx="0.6"/>
<path d="M105.6,367.3 C109,365.2 116,364.8 124,364.8 C132,364.8 139,365.2 142.5,367.3" stroke="#585858" stroke-width="1" fill="none"/>
<line x1="105.6" y1="367.5" x2="142.5" y2="367.5" stroke="#585858" stroke-width="1"/>
<rect x="102.5" y="393" width="43.5" height="1.8" fill="#444"/>
<rect x="100.5" y="353.2" width="5.5" height="3.2" fill="#ddd" stroke="#555" stroke-width="0.6"/>
<line x1="100" y1="354.5" x2="106" y2="354.5" stroke="#e47a58" stroke-width="0.7"/>
<ellipse cx="100.6" cy="354.8" rx="0.9" ry="3.5" fill="#222"/>
<g transform="translate(96.2,0) scale(-1,1) translate(-86.7,0)">
<rect x="86.7" y="351.0" width="2" height="7.3" fill="#4a4a4a" rx="0.9"/>
<rect x="94.2" y="351.0" width="2" height="7.3" fill="#4a4a4a" rx="0.9"/>
<rect x="88.7" y="352.40000000000003" width="5.5" height="4.4" fill="#8a8a8a" stroke="#444" stroke-width="0.7"/>
<rect x="89.3" y="350.0" width="2.4" height="2.6" fill="#555" rx="0.8"/>
<line x1="89.7" y1="354.5" x2="93.2" y2="354.5" stroke="#333" stroke-width="1"/>
</g>
<line x1="123.89999999999998" y1="224" x2="123.89999999999998" y2="397.5" stroke="#e47a58" stroke-width="1"/>
<line x1="142.5" y1="236.5" x2="168.3" y2="236.5" stroke="#585858" stroke-width="1"/>
<line x1="142.5" y1="247.5" x2="168.3" y2="247.5" stroke="#585858" stroke-width="1"/>
<line x1="142.5" y1="242.5" x2="174" y2="242.5" stroke="#e47a58" stroke-width="1"/>
<rect x="155.8" y="233.2" width="2.6" height="17.5" fill="#2e2e2e" rx="0.8"/>
<line x1="142.5" y1="353.5" x2="171" y2="353.5" stroke="#585858" stroke-width="1"/>
<line x1="142.5" y1="367.5" x2="171" y2="367.5" stroke="#585858" stroke-width="1"/>
<line x1="137.5" y1="360.5" x2="172.5" y2="360.5" stroke="#e47a58" stroke-width="1"/>
<rect x="152.8" y="351" width="2.6" height="19" fill="#2e2e2e" rx="0.8"/>
</g>
<line x1="97" y1="255.5" x2="105.6" y2="255.5" stroke="#777" stroke-width="0.8"/>
<line x1="97" y1="258.5" x2="105.6" y2="258.5" stroke="#777" stroke-width="0.8"/>
<line x1="97" y1="257.5" x2="105.6" y2="257.5" stroke="#eea080" stroke-width="1.2"/>
<ellipse cx="96.6" cy="257" rx="1.1" ry="5.2" fill="#333"/>
<path d="M160,367.5 L160,371" stroke="#585858" stroke-width="1" fill="none"/>
<rect x="158.5" y="370.5" width="3" height="5" fill="#333"/>
<rect x="156.5" y="374" width="3" height="1.5" fill="#333"/>
<path d="M322,342.3 L334.5,342.3 L334.5,334.7 L341.3,334.7" stroke="#585858" stroke-width="1" fill="none"/>
<line x1="408" y1="334.5" x2="448.5" y2="334.5" stroke="#585858" stroke-width="1"/>
<line x1="491.5" y1="334.5" x2="514" y2="334.5" stroke="#585858" stroke-width="1"/>
<line x1="494.5" y1="342.5" x2="514" y2="342.5" stroke="#585858" stroke-width="1"/>
<line x1="580.8" y1="334.5" x2="612" y2="334.5" stroke="#585858" stroke-width="1"/>
<line x1="580.8" y1="347.5" x2="595" y2="347.5" stroke="#585858" stroke-width="1"/>
<ellipse cx="612.5999999999999" cy="334.4" rx="1.1" ry="3.6" fill="#444"/>
<ellipse cx="623.0" cy="334.4" rx="1.1" ry="3.6" fill="#444"/>
<line x1="612.8" y1="334.4" x2="622.8" y2="334.4" stroke="#7a5a5a" stroke-width="1.6"/>
<path d="M613.8,332.9 L616.4,331.79999999999995 L616.4,330.09999999999997 L619.1999999999999,330.09999999999997 L619.1999999999999,331.79999999999995 L621.8,332.9 L621.8,335.9 Q617.8,339.2 613.8,335.9 Z" stroke="#5a3c3c" stroke-width="1" fill="#f4e4de"/>
<line x1="615.8" y1="334.5" x2="619.8" y2="334.5" stroke="#d07070" stroke-width="1"/>
<line x1="617.5" y1="330.09999999999997" x2="617.5" y2="327.79999999999995" stroke="#444" stroke-width="1"/>
<rect x="613.5" y="325.59999999999997" width="8.6" height="2.4" fill="#fff" stroke="#555" stroke-width="0.8" rx="1.2"/>
<ellipse cx="594.3" cy="347.6" rx="1.1" ry="3.6" fill="#444"/>
<ellipse cx="604.7" cy="347.6" rx="1.1" ry="3.6" fill="#444"/>
<line x1="594.5" y1="347.6" x2="604.5" y2="347.6" stroke="#7a5a5a" stroke-width="1.6"/>
<path d="M595.5,346.1 L598.1,345.0 L598.1,343.3 L600.9,343.3 L600.9,345.0 L603.5,346.1 L603.5,349.1 Q599.5,352.40000000000003 595.5,349.1 Z" stroke="#5a3c3c" stroke-width="1" fill="#f4e4de"/>
<line x1="597.5" y1="348.5" x2="601.5" y2="348.5" stroke="#d07070" stroke-width="1"/>
<line x1="599.5" y1="343.3" x2="599.5" y2="341.0" stroke="#444" stroke-width="1"/>
<rect x="595.2" y="338.8" width="8.6" height="2.4" fill="#fff" stroke="#555" stroke-width="0.8" rx="1.2"/>
<path d="M422.5,363.5 L430.5,363.5 L430.5,432.5 M430.5,446.5 L430.5,463.5 L104,463.5" stroke="#c274a0" stroke-width="1" fill="none"/>
<path d="M595.5,362.5 L601.5,362.5 L601.5,440.5 L277,440.5" stroke="#c274a0" stroke-width="1" fill="none"/>
<path d="M99,355.5 L94.5,355.5 L94.5,449" stroke="#c274a0" stroke-width="1" fill="none"/>
<path d="M271.8,355.5 L268.5,355.5 L268.5,426" stroke="#c274a0" stroke-width="1" fill="none"/>
<rect x="91.9" y="403.2" width="5.4" height="15.7" fill="#e8c8d0" stroke="#444" stroke-width="0.9" rx="1"/>
<rect x="91.9" y="403.2" width="5.4" height="3" fill="#6a5058"/>
<rect x="91.9" y="415.9" width="5.4" height="3" fill="#6a5058"/>
<path d="M91.9,407.7 L87.0,408.7 Q86.0,411.2 87.0,413.7 L91.9,414.2" stroke="#222" stroke-width="1" fill="#333"/>
<line x1="94.5" y1="408.2" x2="94.5" y2="414.2" stroke="#444" stroke-width="0.8"/>
<rect x="265.9" y="403.2" width="5.4" height="15.7" fill="#e8c8d0" stroke="#444" stroke-width="0.9" rx="1"/>
<rect x="265.9" y="403.2" width="5.4" height="3" fill="#6a5058"/>
<rect x="265.9" y="415.9" width="5.4" height="3" fill="#6a5058"/>
<path d="M265.9,407.7 L261.0,408.7 Q260.0,411.2 261.0,413.7 L265.9,414.2" stroke="#222" stroke-width="1" fill="#333"/>
<line x1="268.5" y1="408.2" x2="268.5" y2="414.2" stroke="#444" stroke-width="0.8"/>
<g transform="translate(0,0)">
<rect x="59.5" y="453.2" width="25" height="20.6" fill="#f8c8b0" stroke="#6a6a6a" stroke-width="1" rx="3.5"/>
<rect x="62" y="453.7" width="20" height="19.6" fill="#f6b090"/>
<line x1="62" y1="455.5" x2="82" y2="455.5" stroke="#fad4c0" stroke-width="1"/>
<line x1="62" y1="457.5" x2="82" y2="457.5" stroke="#fad4c0" stroke-width="1"/>
<line x1="62" y1="460.5" x2="82" y2="460.5" stroke="#fad4c0" stroke-width="1"/>
<line x1="62" y1="462.5" x2="82" y2="462.5" stroke="#fad4c0" stroke-width="1"/>
<line x1="62" y1="465.5" x2="82" y2="465.5" stroke="#fad4c0" stroke-width="1"/>
<line x1="62" y1="467.5" x2="82" y2="467.5" stroke="#fad4c0" stroke-width="1"/>
<line x1="62" y1="469.5" x2="82" y2="469.5" stroke="#fad4c0" stroke-width="1"/>
<line x1="62" y1="472.5" x2="82" y2="472.5" stroke="#fad4c0" stroke-width="1"/>
<line x1="62.5" y1="453.7" x2="62.5" y2="473.3" stroke="#e86a3a" stroke-width="0.8"/>
<line x1="82.5" y1="453.7" x2="82.5" y2="473.3" stroke="#e86a3a" stroke-width="0.8"/>
<rect x="84.6" y="460.3" width="4" height="6.2" fill="#ccc" stroke="#555" stroke-width="0.8"/>
<line x1="86.5" y1="460.3" x2="86.5" y2="466.5" stroke="#555" stroke-width="0.6"/>
<rect x="89.9" y="453.2" width="9.8" height="20.6" fill="#fff" stroke="#555" stroke-width="1" rx="4"/>
<path d="M91.5,449.2 L98.3,449.2 L96.5,451.5 L96.5,453.2 L93.3,453.2 L93.3,451.5 Z" stroke="#555" stroke-width="0.8" fill="#fff"/>
<path d="M99.7,461.5 L102.5,461.5 L104.2,459.8 L104.2,467 L102.5,465.3 L99.7,465.3" stroke="#555" stroke-width="0.8" fill="#fff"/>
<line x1="56" y1="463.5" x2="104" y2="463.5" stroke="#e47a58" stroke-width="0.9"/>
<line x1="94.5" y1="449" x2="94.5" y2="476.5" stroke="#e47a58" stroke-width="0.9"/>
</g>
<g transform="translate(174,-23)">
<rect x="59.5" y="453.2" width="25" height="20.6" fill="#f8c8b0" stroke="#6a6a6a" stroke-width="1" rx="3.5"/>
<rect x="62" y="453.7" width="20" height="19.6" fill="#f6b090"/>
<line x1="62" y1="455.5" x2="82" y2="455.5" stroke="#fad4c0" stroke-width="1"/>
<line x1="62" y1="457.5" x2="82" y2="457.5" stroke="#fad4c0" stroke-width="1"/>
<line x1="62" y1="460.5" x2="82" y2="460.5" stroke="#fad4c0" stroke-width="1"/>
<line x1="62" y1="462.5" x2="82" y2="462.5" stroke="#fad4c0" stroke-width="1"/>
<line x1="62" y1="465.5" x2="82" y2="465.5" stroke="#fad4c0" stroke-width="1"/>
<line x1="62" y1="467.5" x2="82" y2="467.5" stroke="#fad4c0" stroke-width="1"/>
<line x1="62" y1="469.5" x2="82" y2="469.5" stroke="#fad4c0" stroke-width="1"/>
<line x1="62" y1="472.5" x2="82" y2="472.5" stroke="#fad4c0" stroke-width="1"/>
<line x1="62.5" y1="453.7" x2="62.5" y2="473.3" stroke="#e86a3a" stroke-width="0.8"/>
<line x1="82.5" y1="453.7" x2="82.5" y2="473.3" stroke="#e86a3a" stroke-width="0.8"/>
<rect x="84.6" y="460.3" width="4" height="6.2" fill="#ccc" stroke="#555" stroke-width="0.8"/>
<line x1="86.5" y1="460.3" x2="86.5" y2="466.5" stroke="#555" stroke-width="0.6"/>
<rect x="89.9" y="453.2" width="9.8" height="20.6" fill="#fff" stroke="#555" stroke-width="1" rx="4"/>
<path d="M91.5,449.2 L98.3,449.2 L96.5,451.5 L96.5,453.2 L93.3,453.2 L93.3,451.5 Z" stroke="#555" stroke-width="0.8" fill="#fff"/>
<path d="M99.7,461.5 L102.5,461.5 L104.2,459.8 L104.2,467 L102.5,465.3 L99.7,465.3" stroke="#555" stroke-width="0.8" fill="#fff"/>
<line x1="56" y1="463.5" x2="104" y2="463.5" stroke="#e47a58" stroke-width="0.9"/>
<line x1="94.5" y1="449" x2="94.5" y2="476.5" stroke="#e47a58" stroke-width="0.9"/>
</g>
<line x1="610.6" y1="156.5" x2="669.4" y2="156.5" stroke="#585858" stroke-width="1"/>
<line x1="610.6" y1="171.5" x2="669.4" y2="171.5" stroke="#585858" stroke-width="1"/>
<line x1="610.6" y1="164.5" x2="669.4" y2="164.5" stroke="#e47a58" stroke-width="1"/>
<rect x="582" y="154.3" width="2.6" height="19.5" fill="#2e2e2e" rx="0.8"/>
<rect x="649.5" y="154.3" width="2.6" height="19.5" fill="#2e2e2e" rx="0.8"/>
<line x1="631.5" y1="171.6" x2="631.5" y2="316.9" stroke="#585858" stroke-width="1"/>
<rect x="670.5" y="153.5" width="29" height="21.5" fill="#fff" stroke="#585858" stroke-width="1"/>
<line x1="684.5" y1="150" x2="684.5" y2="174.8" stroke="#585858" stroke-width="1"/>
<rect x="666.8" y="174.8" width="36" height="2.6" fill="#b8b8b8" stroke="#555" stroke-width="0.9" rx="1.2"/>
<line x1="699.8" y1="161.5" x2="709" y2="161.5" stroke="#585858" stroke-width="0.9"/>
<line x1="699.8" y1="167.5" x2="709" y2="167.5" stroke="#585858" stroke-width="0.9"/>
<line x1="696" y1="164.5" x2="709" y2="164.5" stroke="#e47a58" stroke-width="0.8"/>
<rect x="708.5" y="157.7" width="2.4" height="13" fill="#333" rx="1"/>
<line x1="699.8" y1="184.5" x2="709" y2="184.5" stroke="#585858" stroke-width="0.9"/>
<line x1="699.8" y1="190.5" x2="709" y2="190.5" stroke="#585858" stroke-width="0.9"/>
<line x1="696" y1="187.5" x2="709" y2="187.5" stroke="#e47a58" stroke-width="0.8"/>
<rect x="708.5" y="180.9" width="2.4" height="13" fill="#333" rx="1"/>
<line x1="670.5" y1="177.5" x2="670.5" y2="306.6" stroke="#585858" stroke-width="1"/>
<line x1="699.5" y1="177.5" x2="699.5" y2="306.6" stroke="#585858" stroke-width="1"/>
<line x1="673.2" y1="177.5" x2="673.2" y2="306.6" stroke="#eb9575" stroke-width="1.4"/>
<line x1="677.2" y1="177.5" x2="677.2" y2="306.6" stroke="#eb9575" stroke-width="1.4"/>
<line x1="681.2" y1="177.5" x2="681.2" y2="306.6" stroke="#eb9575" stroke-width="1.4"/>
<line x1="685.2" y1="177.5" x2="685.2" y2="306.6" stroke="#eb9575" stroke-width="1.4"/>
<line x1="689.2" y1="177.5" x2="689.2" y2="306.6" stroke="#eb9575" stroke-width="1.4"/>
<line x1="693.2" y1="177.5" x2="693.2" y2="306.6" stroke="#eb9575" stroke-width="1.4"/>
<line x1="697.2" y1="177.5" x2="697.2" y2="306.6" stroke="#eb9575" stroke-width="1.4"/>
<line x1="681.5" y1="243.5" x2="699.5" y2="243.5" stroke="#444" stroke-width="1.2"/>
<line x1="699.8" y1="293.5" x2="709" y2="293.5" stroke="#585858" stroke-width="0.9"/>
<line x1="699.8" y1="298.5" x2="709" y2="298.5" stroke="#585858" stroke-width="0.9"/>
<line x1="696" y1="296.5" x2="709" y2="296.5" stroke="#e47a58" stroke-width="0.8"/>
<rect x="708.5" y="290.6" width="2.4" height="12" fill="#333" rx="1"/>
<rect x="666.8" y="306.6" width="36" height="2.5" fill="#b8b8b8" stroke="#555" stroke-width="0.9" rx="1.2"/>
<line x1="670.5" y1="309" x2="670.5" y2="330.5" stroke="#585858" stroke-width="1"/>
<line x1="699.5" y1="309" x2="699.5" y2="330.5" stroke="#585858" stroke-width="1"/>
<path d="M662,340 C662,332 671,327.6 685,327.6 C699,327.6 708.7,332 708.7,340" stroke="#585858" stroke-width="1" fill="none"/>
<rect x="662" y="338.9" width="46.7" height="1.8" fill="#ee9a78"/>
<line x1="662" y1="341.5" x2="708.7" y2="341.5" stroke="#777" stroke-width="0.8"/>
<line x1="662.5" y1="340" x2="662.5" y2="393.3" stroke="#585858" stroke-width="1"/>
<line x1="708.5" y1="340" x2="708.5" y2="393.3" stroke="#585858" stroke-width="1"/>
<path d="M662,387 C666,384.8 675,384.3 685,384.3 C695,384.3 704,384.8 708.7,387" stroke="#585858" stroke-width="1" fill="none"/>
<line x1="662" y1="387.5" x2="708.7" y2="387.5" stroke="#585858" stroke-width="1"/>
<rect x="658" y="393" width="54" height="1.8" fill="#444"/>
<line x1="684.5" y1="309" x2="684.5" y2="398.5" stroke="#e47a58" stroke-width="1"/>
<line x1="684.5" y1="150" x2="684.5" y2="152.5" stroke="#e47a58" stroke-width="1"/>
<circle cx="684.6" cy="347" r="5" stroke="#666" stroke-width="1" fill="#fff"/>
<circle cx="684.6" cy="347" r="3.3" stroke="#e47a58" stroke-width="1" fill="none"/>
<line x1="680.6" y1="347.5" x2="688.6" y2="347.5" stroke="#e47a58" stroke-width="0.8"/>
<rect x="708.7" y="384.6" width="5" height="2.6" fill="#f0b8a0"/>
<rect x="712.8" y="383.5" width="15" height="4.8" fill="#f6d8cc" stroke="#555" stroke-width="0.8" rx="1.2"/>
<rect x="712.8" y="383.29999999999995" width="3" height="5.2" fill="#6a5058" rx="0.8"/>
<rect x="724.8" y="383.29999999999995" width="3" height="5.2" fill="#6a5058" rx="0.8"/>
<line x1="715.8" y1="385.5" x2="724.8" y2="385.5" stroke="#e0a090" stroke-width="1"/>
<path d="M717.5,383.5 L719.3,377.9 L721.3,377.9 L723.0999999999999,383.5 Z" stroke="#333" stroke-width="0.6" fill="#5a4a4a"/>
<path d="M721.3,378.4 L724.3,376.29999999999995 L733.3,376.29999999999995" stroke="#333" stroke-width="1.1" fill="none"/>
<rect x="626.3" y="316.9" width="10.4" height="40" fill="#fff" stroke="#585858" stroke-width="1"/>
<line x1="600" y1="334.5" x2="612" y2="334.5" stroke="#585858" stroke-width="1"/>
<line x1="623.5" y1="334.5" x2="626.3" y2="334.5" stroke="#585858" stroke-width="1"/>
<line x1="604.5" y1="347.5" x2="626.3" y2="347.5" stroke="#585858" stroke-width="1"/>
<line x1="631.5" y1="357" x2="631.5" y2="377.5" stroke="#585858" stroke-width="1"/>
<line x1="631.8" y1="377.5" x2="643.8" y2="377.5" stroke="#585858" stroke-width="1"/>
<line x1="643.5" y1="315.3" x2="643.5" y2="377.5" stroke="#585858" stroke-width="1"/>
<line x1="643.8" y1="315.5" x2="670.3" y2="315.5" stroke="#585858" stroke-width="1"/>
<rect x="629.2" y="363.2" width="4.6" height="10.6" fill="#f2ccc4" stroke="#555" stroke-width="0.8" rx="1.2"/>
<rect x="629.2" y="363.2" width="4.6" height="2.2" fill="#5a4448" rx="0.8"/>
<rect x="629.2" y="371.6" width="4.6" height="2.2" fill="#5a4448" rx="0.8"/>
<line x1="631.5" y1="365.5" x2="631.5" y2="371.5" stroke="#d88888" stroke-width="0.8"/>
<path d="M633.8,366.3 L638.0,368.5 L633.8,370.7 Z" stroke="#222" stroke-width="0.8" fill="#222"/>
<path d="M637.8,368.0 Q638.3,363.5 637.5,359.5" stroke="#333" stroke-width="1.1" fill="none"/>
<line x1="649.4" y1="326.5" x2="670.3" y2="326.5" stroke="#585858" stroke-width="1"/>
<line x1="649.5" y1="326.4" x2="649.5" y2="348" stroke="#585858" stroke-width="1"/>
<line x1="649.4" y1="348.5" x2="662" y2="348.5" stroke="#585858" stroke-width="1"/>
<rect x="653.3" y="324.79999999999995" width="10.5" height="3.3" fill="#f0c8b8" stroke="#555" stroke-width="0.8" rx="1"/>
<rect x="653.3" y="324.4" width="2.2" height="4" fill="#6a5058"/>
<rect x="661.5999999999999" y="324.4" width="2.2" height="4" fill="#6a5058"/>
<path d="M656.5,324.59999999999997 L658.3,321.4 L660.0999999999999,324.59999999999997 Z" stroke="#333" stroke-width="0.8" fill="#333"/>
<line x1="658.3" y1="321.5" x2="649.8" y2="321.5" stroke="#333" stroke-width="1"/>
<line x1="699.7" y1="312.5" x2="719.5" y2="312.5" stroke="#585858" stroke-width="1"/>
<line x1="719.5" y1="312.2" x2="719.5" y2="345" stroke="#585858" stroke-width="1"/>
<line x1="708.7" y1="343.5" x2="719.5" y2="343.5" stroke="#585858" stroke-width="1"/>
<rect x="717.2" y="315.9" width="4.6" height="10.6" fill="#f2ccc4" stroke="#555" stroke-width="0.8" rx="1.2"/>
<rect x="717.2" y="315.9" width="4.6" height="2.2" fill="#5a4448" rx="0.8"/>
<rect x="717.2" y="324.3" width="4.6" height="2.2" fill="#5a4448" rx="0.8"/>
<line x1="719.5" y1="318.2" x2="719.5" y2="324.2" stroke="#d88888" stroke-width="0.8"/>
<path d="M721.8,319.0 L726.0,321.2 L721.8,323.4 Z" stroke="#222" stroke-width="0.8" fill="#222"/>
<path d="M725.8,320.7 Q726.3,316.2 725.5,312.2" stroke="#333" stroke-width="1.1" fill="none"/>
<rect x="717.2" y="345.0" width="4.6" height="10.6" fill="#f2ccc4" stroke="#555" stroke-width="0.8" rx="1.2"/>
<rect x="717.2" y="345.0" width="4.6" height="2.2" fill="#5a4448" rx="0.8"/>
<rect x="717.2" y="353.40000000000003" width="4.6" height="2.2" fill="#5a4448" rx="0.8"/>
<line x1="719.5" y1="347.3" x2="719.5" y2="353.3" stroke="#d88888" stroke-width="0.8"/>
<path d="M721.8,348.1 L726.0,350.3 L721.8,352.5 Z" stroke="#222" stroke-width="0.8" fill="#222"/>
<path d="M725.8,349.8 Q726.3,345.3 725.5,341.3" stroke="#333" stroke-width="1.1" fill="none"/>
<circle cx="285.6" cy="263" r="6.8" stroke="#f3e27a" stroke-width="0.9" fill="none"/>
<line x1="278.6" y1="263.5" x2="292.6" y2="263.5" stroke="#f07030" stroke-width="1"/>
<circle cx="458.3" cy="263.2" r="6.8" stroke="#f3e27a" stroke-width="0.9" fill="none"/>
<line x1="451.3" y1="263.5" x2="465.3" y2="263.5" stroke="#f07030" stroke-width="1"/>
<ellipse cx="63.5" cy="56.4" rx="54.6" ry="35.6" fill="none" stroke="#1e3c9c" stroke-width="2.4"/>
<clipPath id="lc"><ellipse cx="63.6" cy="56.6" rx="48.9" ry="31.1"/></clipPath>
<g clip-path="url(#lc)">
<path d="M24.5,80 Q35.5,61 47.5,50.5 Q63,38.5 80,37 Q98,36 115,38 L118,100 L10,100 Z" stroke="none" stroke-width="0" fill="#1e3c9c"/>
<path d="M33,31 L75,24.5 L44,48 Q40,38 33,31 Z" stroke="none" stroke-width="0" fill="#1e3c9c"/>
<path d="M5,44 Q22,42 34,42.5 Q40,43.5 42.5,49 L23.5,75.5 L5,76 Z" stroke="none" stroke-width="0" fill="#1e3c9c"/>
</g>
<text x="60.5" y="61.5" font-family="Liberation Sans, sans-serif" font-size="13" font-weight="bold" fill="#fff" letter-spacing="10">宇州</text>
<text x="56" y="72.5" font-family="Liberation Serif, serif" font-size="11" font-style="italic" fill="#fff" textLength="43" lengthAdjust="spacingAndGlyphs">YuZhou</text>
<circle cx="125.5" cy="12.8" r="6" fill="none" stroke="#1e3c9c" stroke-width="1"/>
<text x="125.5" y="16.5" text-anchor="middle" font-family="Liberation Sans, sans-serif" font-size="10" fill="#1e3c9c">R</text>
<rect x="0.5" y="0.5" width="799" height="599" fill="none" stroke="#a8a8a8" stroke-width="1"/>
</svg></body></html>
